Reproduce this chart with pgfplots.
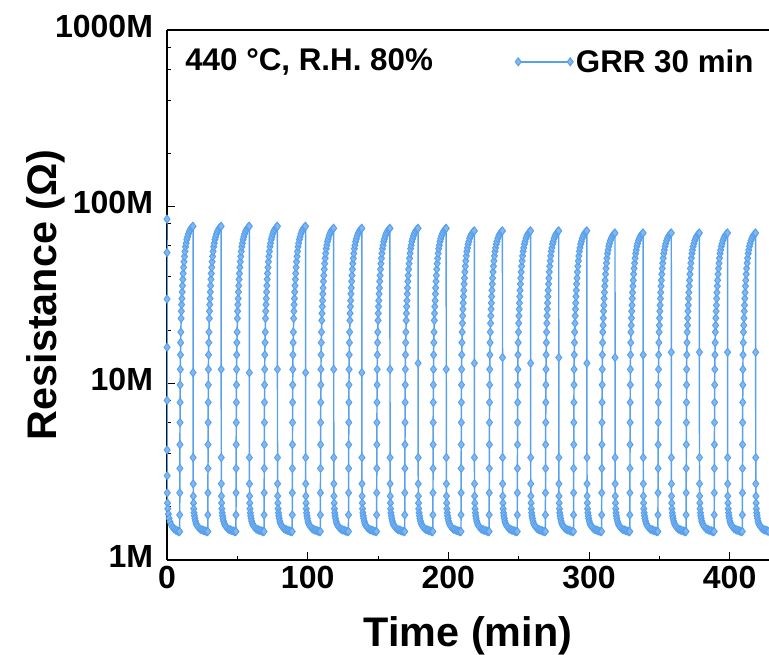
\documentclass[border=0pt]{standalone}
\usepackage{fontspec}
\setmainfont{Liberation Sans}
\usepackage{pgfplots}
\pgfplotsset{compat=1.18}
\definecolor{grr}{RGB}{88,160,236}
\begin{document}
\begin{tikzpicture}
\begin{axis}[
  scale only axis,
  width=451.5pt, height=397.5pt,
  xmin=0, xmax=428,
  ymode=log, ymin=1, ymax=1000,
  axis x line*=box, axis y line*=left,
  axis line style={-, line width=0.8pt, black},
  tick align=inside,
  xtick pos=left, ytick pos=left,
  xtick={0,100,200,300,400}, xticklabels={0,100,200,300,400},
  minor xtick={50,150,250,350},
  ytick={1,10,100,1000}, yticklabels={1M,10M,100M,1000M},
  minor ytick={2,4,6,8,20,40,60,80,200,400,600,800},
  major tick length=6pt, minor tick length=3pt,
  tick style={black, line width=0.7pt},
  ticklabel style={font=\bfseries\fontsize{24}{24}\selectfont},
  yticklabel style={xshift=-7pt,yshift=3pt},
  xticklabel style={yshift=-1pt},
  xlabel={Time (min)}, ylabel={Resistance (Ω)},
  label style={font=\bfseries\fontsize{31}{31}\selectfont},
  xlabel style={at={(axis description cs:0.5,-0.164)}, anchor=base},
  ylabel style={at={(axis description cs:-0.183,0.5)}, anchor=base},
  legend style={at={(axis description cs:0.578,0.94)}, anchor=west, draw=none, fill=none,
    inner sep=0pt, font=\bfseries\fontsize{23.5}{23.5}\selectfont},
  legend cell align=left,
  legend image code/.code={\draw[mark repeat=1,mark phase=1] plot coordinates {(0pt,0pt) (39pt,0pt)};},
]
\addplot[color=grr, line width=1.1pt, mark=diamond*, mark size=3pt, mark options={fill=grr!75!white, draw=grr, line width=0.7pt}] coordinates {
(0,85)(0.02,55)(0.04,30)(0.06,16)(0.08,8)(0.1,4.2)(0.13,3)(0.2,2.4)(0.35,2.1)(0.6,1.95)(1,1.82)(1.5,1.72)(2.2,1.64)(3,1.58)(4,1.53)(5,1.5)(6,1.48)(7,1.47)(8,1.45)(8.7,1.45)
(9,1.45)(9.05,1.8)(9.1,2.4)(9.15,3.3)(9.2,4.5)(9.26,6)(9.32,7.8)(9.38,9.8)(9.45,12)(9.55,14.5)(9.7,17)(9.85,19.5)
(10.05,23.3)(10.2,25.6)(10.4,27.9)(10.6,30.2)(10.8,32.9)(11,35.7)(11.25,38.8)(11.5,41.9)(11.8,45.3)(12.1,48.8)(12.45,52.3)(12.8,55.8)(13.2,59.3)(13.6,62)(14.1,65.1)(14.6,67.4)(15.2,70.1)(15.9,72.5)(16.6,74.4)(17.4,76)(18,76.7)
(18.5,77.5)(18.54,11.5)(18.58,3.8)(18.63,2.7)(18.7,2.3)(18.85,2.1)(19,1.95)(19.25,1.85)(19.5,1.78)(19.8,1.72)(20.2,1.66)(20.7,1.61)(21.3,1.57)(22,1.54)(23,1.51)(24,1.49)(25,1.48)(26,1.47)(27,1.46)(28,1.45)(28.7,1.45)
(29,1.45)(29.05,1.8)(29.1,2.4)(29.15,3.3)(29.2,4.5)(29.26,6)(29.32,7.8)(29.38,9.8)(29.45,12)(29.55,14.5)(29.7,17)(29.85,19.5)
(30.05,23.3)(30.2,25.6)(30.4,27.9)(30.6,30.2)(30.8,32.9)(31,35.7)(31.25,38.8)(31.5,41.9)(31.8,45.3)(32.1,48.8)(32.45,52.3)(32.8,55.8)(33.2,59.3)(33.6,62)(34.1,65.1)(34.6,67.4)(35.2,70.1)(35.9,72.5)(36.6,74.4)(37.4,76)(38,76.7)
(38.5,77.5)(38.54,12)(38.58,3.8)(38.63,2.7)(38.7,2.3)(38.85,2.1)(39,1.95)(39.25,1.85)(39.5,1.78)(39.8,1.72)(40.2,1.66)(40.7,1.61)(41.3,1.57)(42,1.54)(43,1.51)(44,1.49)(45,1.48)(46,1.47)(47,1.46)(48,1.45)(48.7,1.45)
(49,1.45)(49.05,1.8)(49.1,2.4)(49.15,3.3)(49.2,4.5)(49.26,6)(49.32,7.8)(49.38,9.8)(49.45,12)(49.55,14.5)(49.7,17)(49.85,19.5)
(50.05,23.3)(50.2,25.6)(50.4,27.9)(50.6,30.2)(50.8,32.9)(51,35.7)(51.25,38.8)(51.5,41.9)(51.8,45.3)(52.1,48.8)(52.45,52.3)(52.8,55.8)(53.2,59.3)(53.6,62)(54.1,65.1)(54.6,67.4)(55.2,70.1)(55.9,72.5)(56.6,74.4)(57.4,76)(58,76.7)
(58.5,77.5)(58.54,11.5)(58.58,3.8)(58.63,2.7)(58.7,2.3)(58.85,2.1)(59,1.95)(59.25,1.85)(59.5,1.78)(59.8,1.72)(60.2,1.66)(60.7,1.61)(61.3,1.57)(62,1.54)(63,1.51)(64,1.49)(65,1.48)(66,1.47)(67,1.46)(68,1.45)(68.7,1.45)
(69,1.45)(69.05,1.8)(69.1,2.4)(69.15,3.3)(69.2,4.5)(69.26,6)(69.32,7.8)(69.38,9.8)(69.45,12)(69.55,14.5)(69.7,17)(69.85,19.5)
(70.05,23.3)(70.2,25.6)(70.4,27.9)(70.6,30.2)(70.8,32.9)(71,35.7)(71.25,38.8)(71.5,41.9)(71.8,45.3)(72.1,48.8)(72.45,52.3)(72.8,55.8)(73.2,59.3)(73.6,62)(74.1,65.1)(74.6,67.4)(75.2,70.1)(75.9,72.5)(76.6,74.4)(77.4,76)(78,76.7)
(78.5,77.5)(78.54,12)(78.58,3.8)(78.63,2.7)(78.7,2.3)(78.85,2.1)(79,1.95)(79.25,1.85)(79.5,1.78)(79.8,1.72)(80.2,1.66)(80.7,1.61)(81.3,1.57)(82,1.54)(83,1.51)(84,1.49)(85,1.48)(86,1.47)(87,1.46)(88,1.45)(88.7,1.45)
(89,1.45)(89.05,1.8)(89.1,2.4)(89.15,3.3)(89.2,4.5)(89.26,6)(89.32,7.8)(89.38,9.8)(89.45,12)(89.55,14.5)(89.7,17)(89.85,19.5)
(90.05,23.3)(90.2,25.6)(90.4,27.9)(90.6,30.2)(90.8,32.9)(91,35.7)(91.25,38.8)(91.5,41.9)(91.8,45.3)(92.1,48.8)(92.45,52.3)(92.8,55.8)(93.2,59.3)(93.6,62)(94.1,65.1)(94.6,67.4)(95.2,70.1)(95.9,72.5)(96.6,74.4)(97.4,76)(98,76.7)
(98.5,77.5)(98.54,11.5)(98.58,3.8)(98.63,2.7)(98.7,2.3)(98.85,2.1)(99,1.95)(99.25,1.85)(99.5,1.78)(99.8,1.72)(100.2,1.66)(100.7,1.61)(101.3,1.57)(102,1.54)(103,1.51)(104,1.49)(105,1.48)(106,1.47)(107,1.46)(108,1.45)(108.7,1.45)
(109,1.45)(109.05,1.8)(109.1,2.4)(109.15,3.3)(109.2,4.5)(109.26,6)(109.32,7.8)(109.38,9.8)(109.45,12)(109.55,14.5)(109.7,17)(109.85,19.5)
(110.05,22.7)(110.2,24.9)(110.4,27.2)(110.6,29.4)(110.8,32.1)(111,34.7)(111.25,37.8)(111.5,40.8)(111.8,44.2)(112.1,47.6)(112.45,51)(112.8,54.4)(113.2,57.8)(113.6,60.4)(114.1,63.4)(114.6,65.7)(115.2,68.3)(115.9,70.6)(116.6,72.5)(117.4,74)(118,74.7)
(118.5,75.5)(118.54,12)(118.58,3.8)(118.63,2.7)(118.7,2.3)(118.85,2.1)(119,1.95)(119.25,1.85)(119.5,1.78)(119.8,1.72)(120.2,1.66)(120.7,1.61)(121.3,1.57)(122,1.54)(123,1.51)(124,1.49)(125,1.48)(126,1.47)(127,1.46)(128,1.45)(128.7,1.45)
(129,1.45)(129.05,1.8)(129.1,2.4)(129.15,3.3)(129.2,4.5)(129.26,6)(129.32,7.8)(129.38,9.8)(129.45,12)(129.55,14.5)(129.7,17)(129.85,19.5)
(130.05,22.7)(130.2,24.9)(130.4,27.2)(130.6,29.4)(130.8,32.1)(131,34.7)(131.25,37.8)(131.5,40.8)(131.8,44.2)(132.1,47.6)(132.45,51)(132.8,54.4)(133.2,57.8)(133.6,60.4)(134.1,63.4)(134.6,65.7)(135.2,68.3)(135.9,70.6)(136.6,72.5)(137.4,74)(138,74.7)
(138.5,75.5)(138.54,11.5)(138.58,3.8)(138.63,2.7)(138.7,2.3)(138.85,2.1)(139,1.95)(139.25,1.85)(139.5,1.78)(139.8,1.72)(140.2,1.66)(140.7,1.61)(141.3,1.57)(142,1.54)(143,1.51)(144,1.49)(145,1.48)(146,1.47)(147,1.46)(148,1.45)(148.7,1.45)
(149,1.45)(149.05,1.8)(149.1,2.4)(149.15,3.3)(149.2,4.5)(149.26,6)(149.32,7.8)(149.38,9.8)(149.45,12)(149.55,14.5)(149.7,17)(149.85,19.5)
(150.05,22.7)(150.2,24.9)(150.4,27.2)(150.6,29.4)(150.8,32.1)(151,34.7)(151.25,37.8)(151.5,40.8)(151.8,44.2)(152.1,47.6)(152.45,51)(152.8,54.4)(153.2,57.8)(153.6,60.4)(154.1,63.4)(154.6,65.7)(155.2,68.3)(155.9,70.6)(156.6,72.5)(157.4,74)(158,74.7)
(158.5,75.5)(158.54,12)(158.58,3.8)(158.63,2.7)(158.7,2.3)(158.85,2.1)(159,1.95)(159.25,1.85)(159.5,1.78)(159.8,1.72)(160.2,1.66)(160.7,1.61)(161.3,1.57)(162,1.54)(163,1.51)(164,1.49)(165,1.48)(166,1.47)(167,1.46)(168,1.45)(168.7,1.45)
(169,1.45)(169.05,1.8)(169.1,2.4)(169.15,3.3)(169.2,4.5)(169.26,6)(169.32,7.8)(169.38,9.8)(169.45,12)(169.55,14.5)(169.7,17)(169.85,19.5)
(170.05,22.7)(170.2,24.9)(170.4,27.2)(170.6,29.4)(170.8,32.1)(171,34.7)(171.25,37.8)(171.5,40.8)(171.8,44.2)(172.1,47.6)(172.45,51)(172.8,54.4)(173.2,57.8)(173.6,60.4)(174.1,63.4)(174.6,65.7)(175.2,68.3)(175.9,70.6)(176.6,72.5)(177.4,74)(178,74.7)
(178.5,75.5)(178.54,13)(178.58,3.8)(178.63,2.7)(178.7,2.3)(178.85,2.1)(179,1.95)(179.25,1.85)(179.5,1.78)(179.8,1.72)(180.2,1.66)(180.7,1.61)(181.3,1.57)(182,1.54)(183,1.51)(184,1.49)(185,1.48)(186,1.47)(187,1.46)(188,1.45)(188.7,1.45)
(189,1.45)(189.05,1.8)(189.1,2.4)(189.15,3.3)(189.2,4.5)(189.26,6)(189.32,7.8)(189.38,9.8)(189.45,12)(189.55,14.5)(189.7,17)(189.85,19.5)
(190.05,22.7)(190.2,24.9)(190.4,27.2)(190.6,29.4)(190.8,32.1)(191,34.7)(191.25,37.8)(191.5,40.8)(191.8,44.2)(192.1,47.6)(192.45,51)(192.8,54.4)(193.2,57.8)(193.6,60.4)(194.1,63.4)(194.6,65.7)(195.2,68.3)(195.9,70.6)(196.6,72.5)(197.4,74)(198,74.7)
(198.5,75.5)(198.54,12)(198.58,3.8)(198.63,2.7)(198.7,2.3)(198.85,2.1)(199,1.95)(199.25,1.85)(199.5,1.78)(199.8,1.72)(200.2,1.66)(200.7,1.61)(201.3,1.57)(202,1.54)(203,1.51)(204,1.49)(205,1.48)(206,1.47)(207,1.46)(208,1.45)(208.7,1.45)
(209,1.45)(209.05,1.8)(209.1,2.4)(209.15,3.3)(209.2,4.5)(209.26,6)(209.32,7.8)(209.38,9.8)(209.45,12)(209.55,14.5)(209.7,17)(209.85,19.5)
(210.05,21.9)(210.2,24.1)(210.4,26.3)(210.6,28.5)(210.8,31)(211,33.6)(211.25,36.5)(211.5,39.4)(211.8,42.7)(212.1,46)(212.45,49.3)(212.8,52.6)(213.2,55.8)(213.6,58.4)(214.1,61.3)(214.6,63.5)(215.2,66.1)(215.9,68.3)(216.6,70.1)(217.4,71.5)(218,72.3)
(218.5,73)(218.54,13)(218.58,3.8)(218.63,2.7)(218.7,2.3)(218.85,2.1)(219,1.95)(219.25,1.85)(219.5,1.78)(219.8,1.72)(220.2,1.66)(220.7,1.61)(221.3,1.57)(222,1.54)(223,1.51)(224,1.49)(225,1.48)(226,1.47)(227,1.46)(228,1.45)(228.7,1.45)
(229,1.45)(229.05,1.8)(229.1,2.4)(229.15,3.3)(229.2,4.5)(229.26,6)(229.32,7.8)(229.38,9.8)(229.45,12)(229.55,14.5)(229.7,17)(229.85,19.5)
(230.05,21.9)(230.2,24.1)(230.4,26.3)(230.6,28.5)(230.8,31)(231,33.6)(231.25,36.5)(231.5,39.4)(231.8,42.7)(232.1,46)(232.45,49.3)(232.8,52.6)(233.2,55.8)(233.6,58.4)(234.1,61.3)(234.6,63.5)(235.2,66.1)(235.9,68.3)(236.6,70.1)(237.4,71.5)(238,72.3)
(238.5,73)(238.54,14)(238.58,3.8)(238.63,2.7)(238.7,2.3)(238.85,2.1)(239,1.95)(239.25,1.85)(239.5,1.78)(239.8,1.72)(240.2,1.66)(240.7,1.61)(241.3,1.57)(242,1.54)(243,1.51)(244,1.49)(245,1.48)(246,1.47)(247,1.46)(248,1.45)(248.7,1.45)
(249,1.45)(249.05,1.8)(249.1,2.4)(249.15,3.3)(249.2,4.5)(249.26,6)(249.32,7.8)(249.38,9.8)(249.45,12)(249.55,14.5)(249.7,17)(249.85,19.5)
(250.05,21.9)(250.2,24.1)(250.4,26.3)(250.6,28.5)(250.8,31)(251,33.6)(251.25,36.5)(251.5,39.4)(251.8,42.7)(252.1,46)(252.45,49.3)(252.8,52.6)(253.2,55.8)(253.6,58.4)(254.1,61.3)(254.6,63.5)(255.2,66.1)(255.9,68.3)(256.6,70.1)(257.4,71.5)(258,72.3)
(258.5,73)(258.54,13)(258.58,3.8)(258.63,2.7)(258.7,2.3)(258.85,2.1)(259,1.95)(259.25,1.85)(259.5,1.78)(259.8,1.72)(260.2,1.66)(260.7,1.61)(261.3,1.57)(262,1.54)(263,1.51)(264,1.49)(265,1.48)(266,1.47)(267,1.46)(268,1.45)(268.7,1.45)
(269,1.45)(269.05,1.8)(269.1,2.4)(269.15,3.3)(269.2,4.5)(269.26,6)(269.32,7.8)(269.38,9.8)(269.45,12)(269.55,14.5)(269.7,17)(269.85,19.5)
(270.05,21.9)(270.2,24.1)(270.4,26.3)(270.6,28.5)(270.8,31)(271,33.6)(271.25,36.5)(271.5,39.4)(271.8,42.7)(272.1,46)(272.45,49.3)(272.8,52.6)(273.2,55.8)(273.6,58.4)(274.1,61.3)(274.6,63.5)(275.2,66.1)(275.9,68.3)(276.6,70.1)(277.4,71.5)(278,72.3)
(278.5,73)(278.54,14)(278.58,3.8)(278.63,2.7)(278.7,2.3)(278.85,2.1)(279,1.95)(279.25,1.85)(279.5,1.78)(279.8,1.72)(280.2,1.66)(280.7,1.61)(281.3,1.57)(282,1.54)(283,1.51)(284,1.49)(285,1.48)(286,1.47)(287,1.46)(288,1.45)(288.7,1.45)
(289,1.45)(289.05,1.8)(289.1,2.4)(289.15,3.3)(289.2,4.5)(289.26,6)(289.32,7.8)(289.38,9.8)(289.45,12)(289.55,14.5)(289.7,17)(289.85,19.5)
(290.05,21.9)(290.2,24.1)(290.4,26.3)(290.6,28.5)(290.8,31)(291,33.6)(291.25,36.5)(291.5,39.4)(291.8,42.7)(292.1,46)(292.45,49.3)(292.8,52.6)(293.2,55.8)(293.6,58.4)(294.1,61.3)(294.6,63.5)(295.2,66.1)(295.9,68.3)(296.6,70.1)(297.4,71.5)(298,72.3)
(298.5,73)(298.54,13)(298.58,3.8)(298.63,2.7)(298.7,2.3)(298.85,2.1)(299,1.95)(299.25,1.85)(299.5,1.78)(299.8,1.72)(300.2,1.66)(300.7,1.61)(301.3,1.57)(302,1.54)(303,1.51)(304,1.49)(305,1.48)(306,1.47)(307,1.46)(308,1.45)(308.7,1.45)
(309,1.45)(309.05,1.8)(309.1,2.4)(309.15,3.3)(309.2,4.5)(309.26,6)(309.32,7.8)(309.38,9.8)(309.45,12)(309.55,14.5)(309.7,17)(309.85,19.5)
(310.05,21.3)(310.2,23.4)(310.4,25.6)(310.6,27.7)(310.8,30.2)(311,32.7)(311.25,35.5)(311.5,38.3)(311.8,41.5)(312.1,44.7)(312.45,47.9)(312.8,51.1)(313.2,54.3)(313.6,56.8)(314.1,59.6)(314.6,61.8)(315.2,64.3)(315.9,66.4)(316.6,68.2)(317.4,69.6)(318,70.3)
(318.5,71)(318.54,14)(318.58,3.8)(318.63,2.7)(318.7,2.3)(318.85,2.1)(319,1.95)(319.25,1.85)(319.5,1.78)(319.8,1.72)(320.2,1.66)(320.7,1.61)(321.3,1.57)(322,1.54)(323,1.51)(324,1.49)(325,1.48)(326,1.47)(327,1.46)(328,1.45)(328.7,1.45)
(329,1.45)(329.05,1.8)(329.1,2.4)(329.15,3.3)(329.2,4.5)(329.26,6)(329.32,7.8)(329.38,9.8)(329.45,12)(329.55,14.5)(329.7,17)(329.85,19.5)
(330.05,21.3)(330.2,23.4)(330.4,25.6)(330.6,27.7)(330.8,30.2)(331,32.7)(331.25,35.5)(331.5,38.3)(331.8,41.5)(332.1,44.7)(332.45,47.9)(332.8,51.1)(333.2,54.3)(333.6,56.8)(334.1,59.6)(334.6,61.8)(335.2,64.3)(335.9,66.4)(336.6,68.2)(337.4,69.6)(338,70.3)
(338.5,71)(338.54,14.5)(338.58,3.8)(338.63,2.7)(338.7,2.3)(338.85,2.1)(339,1.95)(339.25,1.85)(339.5,1.78)(339.8,1.72)(340.2,1.66)(340.7,1.61)(341.3,1.57)(342,1.54)(343,1.51)(344,1.49)(345,1.48)(346,1.47)(347,1.46)(348,1.45)(348.7,1.45)
(349,1.45)(349.05,1.8)(349.1,2.4)(349.15,3.3)(349.2,4.5)(349.26,6)(349.32,7.8)(349.38,9.8)(349.45,12)(349.55,14.5)(349.7,17)(349.85,19.5)
(350.05,21.3)(350.2,23.4)(350.4,25.6)(350.6,27.7)(350.8,30.2)(351,32.7)(351.25,35.5)(351.5,38.3)(351.8,41.5)(352.1,44.7)(352.45,47.9)(352.8,51.1)(353.2,54.3)(353.6,56.8)(354.1,59.6)(354.6,61.8)(355.2,64.3)(355.9,66.4)(356.6,68.2)(357.4,69.6)(358,70.3)
(358.5,71)(358.54,15)(358.58,3.8)(358.63,2.7)(358.7,2.3)(358.85,2.1)(359,1.95)(359.25,1.85)(359.5,1.78)(359.8,1.72)(360.2,1.66)(360.7,1.61)(361.3,1.57)(362,1.54)(363,1.51)(364,1.49)(365,1.48)(366,1.47)(367,1.46)(368,1.45)(368.7,1.45)
(369,1.45)(369.05,1.8)(369.1,2.4)(369.15,3.3)(369.2,4.5)(369.26,6)(369.32,7.8)(369.38,9.8)(369.45,12)(369.55,14.5)(369.7,17)(369.85,19.5)
(370.05,21.3)(370.2,23.4)(370.4,25.6)(370.6,27.7)(370.8,30.2)(371,32.7)(371.25,35.5)(371.5,38.3)(371.8,41.5)(372.1,44.7)(372.45,47.9)(372.8,51.1)(373.2,54.3)(373.6,56.8)(374.1,59.6)(374.6,61.8)(375.2,64.3)(375.9,66.4)(376.6,68.2)(377.4,69.6)(378,70.3)
(378.5,71)(378.54,15)(378.58,3.8)(378.63,2.7)(378.7,2.3)(378.85,2.1)(379,1.95)(379.25,1.85)(379.5,1.78)(379.8,1.72)(380.2,1.66)(380.7,1.61)(381.3,1.57)(382,1.54)(383,1.51)(384,1.49)(385,1.48)(386,1.47)(387,1.46)(388,1.45)(388.7,1.45)
(389,1.45)(389.05,1.8)(389.1,2.4)(389.15,3.3)(389.2,4.5)(389.26,6)(389.32,7.8)(389.38,9.8)(389.45,12)(389.55,14.5)(389.7,17)(389.85,19.5)
(390.05,21.3)(390.2,23.4)(390.4,25.6)(390.6,27.7)(390.8,30.2)(391,32.7)(391.25,35.5)(391.5,38.3)(391.8,41.5)(392.1,44.7)(392.45,47.9)(392.8,51.1)(393.2,54.3)(393.6,56.8)(394.1,59.6)(394.6,61.8)(395.2,64.3)(395.9,66.4)(396.6,68.2)(397.4,69.6)(398,70.3)
(398.5,71)(398.54,15)(398.58,3.8)(398.63,2.7)(398.7,2.3)(398.85,2.1)(399,1.95)(399.25,1.85)(399.5,1.78)(399.8,1.72)(400.2,1.66)(400.7,1.61)(401.3,1.57)(402,1.54)(403,1.51)(404,1.49)(405,1.48)(406,1.47)(407,1.46)(408,1.45)(408.7,1.45)
(409,1.45)(409.05,1.8)(409.1,2.4)(409.15,3.3)(409.2,4.5)(409.26,6)(409.32,7.8)(409.38,9.8)(409.45,12)(409.55,14.5)(409.7,17)(409.85,19.5)
(410.05,21.3)(410.2,23.4)(410.4,25.6)(410.6,27.7)(410.8,30.2)(411,32.7)(411.25,35.5)(411.5,38.3)(411.8,41.5)(412.1,44.7)(412.45,47.9)(412.8,51.1)(413.2,54.3)(413.6,56.8)(414.1,59.6)(414.6,61.8)(415.2,64.3)(415.9,66.4)(416.6,68.2)(417.4,69.6)(418,70.3)
(418.5,71)(418.54,15)(418.58,3.8)(418.63,2.7)(418.7,2.3)(418.85,2.1)(419,1.95)(419.25,1.85)(419.5,1.78)(419.8,1.72)(420.2,1.66)(420.7,1.61)(421.3,1.57)(422,1.54)(423,1.51)(424,1.49)(425,1.48)(426,1.47)(427,1.46)(428,1.45)(428.7,1.45)
};
\addlegendentry{GRR 30 min}
\node[anchor=west, inner sep=0pt, font=\bfseries\fontsize{23.5}{23.5}\selectfont] at (rel axis cs:0.03,0.94) {440 °C, R.H. 80\%};
\end{axis}
\pgfresetboundingbox
\path[use as bounding box] ([xshift=-125.25pt,yshift=-71.25pt]current axis.south west) rectangle ([yshift=22.5pt]current axis.north east);
\end{tikzpicture}
\end{document}
